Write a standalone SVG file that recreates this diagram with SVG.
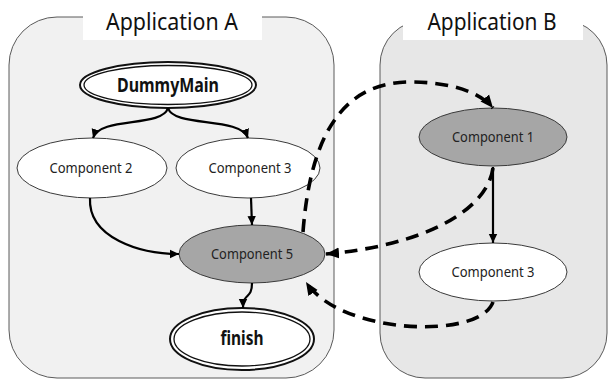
<svg xmlns="http://www.w3.org/2000/svg" width="611" height="379" viewBox="0 0 611 379">
  <style>
    .app { stroke: #5a5a5a; stroke-width: 1; }
    .title { font-family: "Noto Sans", "Open Sans", sans-serif; font-size: 23px; fill: #111; text-anchor: middle; }
    .node { stroke: #3a3a3a; stroke-width: 1; }
    .white { fill: #ffffff; }
    .gray { fill: #a6a6a6; }
    .lbl { font-family: "Noto Sans", "Open Sans", sans-serif; font-size: 14px; fill: #222; text-anchor: middle; }
    .bold { font-family: "Noto Sans", "Open Sans", sans-serif; font-weight: bold; font-size: 19px; fill: #111; text-anchor: middle; }
    .outer { fill: #ffffff; stroke: #111; stroke-width: 2; }
    .inner { fill: none; stroke: #111; stroke-width: 1.3; }
    .solid { fill: none; stroke: #000; stroke-width: 2.2; }
    .dash { fill: none; stroke: #000; stroke-width: 3.6; stroke-dasharray: 13 8; }
  </style>
  <defs>
    <marker id="head" markerUnits="userSpaceOnUse" markerWidth="10" markerHeight="10" refX="9" refY="5" orient="auto">
      <path d="M0,0.8 L9,5 L0,9.2 Z" fill="#000"/>
    </marker>
    <marker id="bighead" markerUnits="userSpaceOnUse" markerWidth="14" markerHeight="14" refX="13" refY="7" orient="auto">
      <path d="M0,1.5 L13,7 L0,12.5 Z" fill="#000"/>
    </marker>
  </defs>

  <!-- application containers -->
  <g id="app-a">
    <rect class="app" x="9" y="17" width="325" height="361" rx="48" ry="48" fill="#f1f1f1"/>
    <rect x="83" y="0" width="179" height="40" fill="#ffffff"/>
    <text class="title" x="172" y="30" textLength="132" lengthAdjust="spacingAndGlyphs">Application  A</text>
  </g>
  <g id="app-b">
    <rect class="app" x="380" y="20" width="227" height="358" rx="45" ry="45" fill="#e7e7e7"/>
    <rect x="403" y="0" width="180" height="40" fill="#ffffff"/>
    <text class="title" x="492" y="30" textLength="129" lengthAdjust="spacingAndGlyphs">Application  B</text>
  </g>

  <!-- nodes -->
  <g id="dummymain">
    <ellipse class="outer" cx="168" cy="85" rx="88" ry="23"/>
    <ellipse class="inner" cx="168" cy="85" rx="84" ry="19.5"/>
    <text class="bold" x="168" y="92" textLength="102" lengthAdjust="spacingAndGlyphs">DummyMain</text>
  </g>
  <g id="a-component2">
    <ellipse class="node white" cx="92" cy="168" rx="75" ry="30"/>
    <text class="lbl" x="91" y="173" textLength="83" lengthAdjust="spacingAndGlyphs">Component 2</text>
  </g>
  <g id="a-component3">
    <ellipse class="node white" cx="248" cy="168" rx="72" ry="30"/>
    <text class="lbl" x="250" y="173" textLength="83" lengthAdjust="spacingAndGlyphs">Component 3</text>
  </g>
  <g id="a-component5">
    <ellipse class="node gray" cx="252" cy="254" rx="73" ry="29"/>
    <text class="lbl" x="252" y="259" textLength="82" lengthAdjust="spacingAndGlyphs">Component 5</text>
  </g>
  <g id="finish">
    <ellipse class="outer" cx="242" cy="339" rx="72" ry="31"/>
    <ellipse class="inner" cx="242" cy="339" rx="68" ry="27"/>
    <text class="bold" x="242" y="345" textLength="43" lengthAdjust="spacingAndGlyphs">finish</text>
  </g>
  <g id="b-component1">
    <ellipse class="node gray" cx="493" cy="137" rx="74" ry="29"/>
    <text class="lbl" x="493" y="142" textLength="82" lengthAdjust="spacingAndGlyphs">Component 1</text>
  </g>
  <g id="b-component3">
    <ellipse class="node white" cx="493" cy="272" rx="74" ry="29"/>
    <text class="lbl" x="493" y="277" textLength="83" lengthAdjust="spacingAndGlyphs">Component 3</text>
  </g>

  <!-- connectors -->
  <g id="connectors">
    <path class="solid" d="M168,108 C162,128 100,116 93,138" marker-end="url(#head)"/>
    <path class="solid" d="M168,108 C174,128 240,116 248,138" marker-end="url(#head)"/>
    <path class="solid" d="M90,198 C88,238 140,254 179,254" marker-end="url(#head)"/>
    <path class="solid" d="M251,198 L252,225" marker-end="url(#head)"/>
    <path class="solid" d="M252,283 C252,300 243,292 243,308" marker-end="url(#head)"/>
    <path class="solid" d="M493,167 L493,243" marker-end="url(#head)"/>
    <path class="dash" d="M303,232 C310,140 340,82 410,82 C450,82 480,92 493,108" marker-end="url(#bighead)"/>
    <path class="dash" d="M493,168 C487,212 420,246 326,254" marker-end="url(#bighead)"/>
    <path class="dash" d="M493,302 C480,340 340,335 306,282" marker-end="url(#bighead)"/>
  </g>
</svg>
